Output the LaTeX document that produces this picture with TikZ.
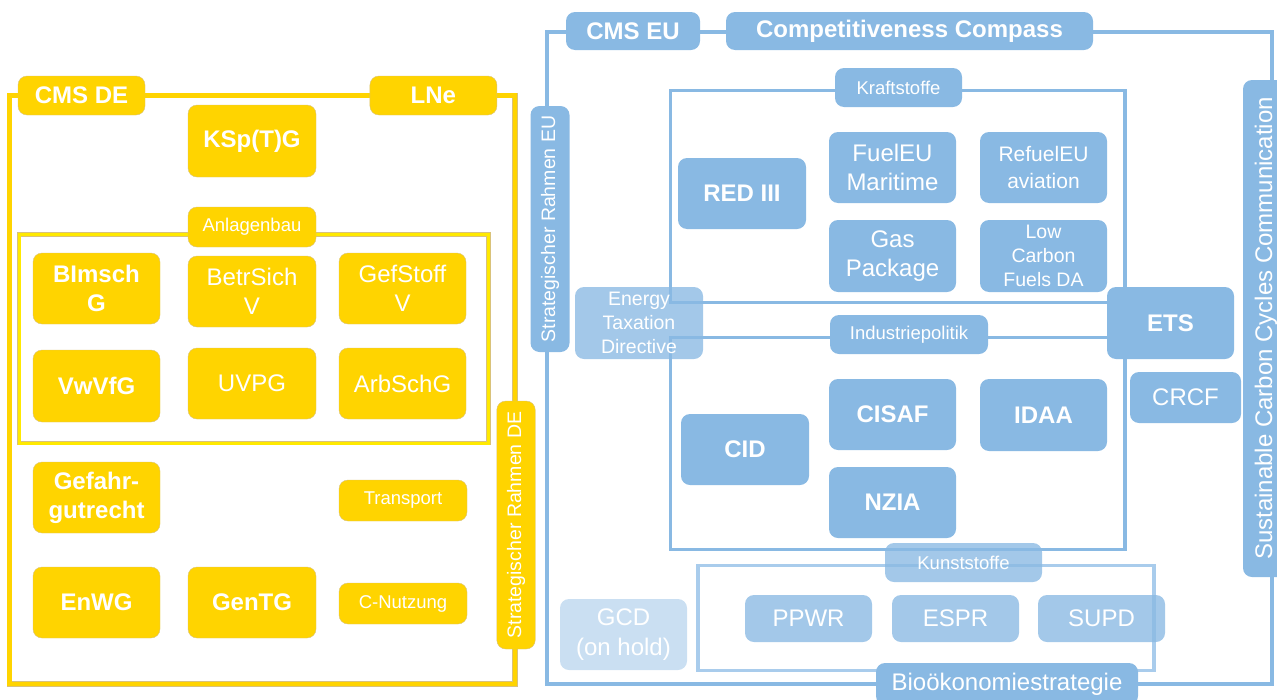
\documentclass[tikz,border=0pt]{standalone}
\usepackage{fontspec}
\setmainfont{Liberation Sans}
\definecolor{ygold}{HTML}{FFD400}
\definecolor{yedge}{HTML}{D9C27A}
\definecolor{ybright}{HTML}{FFE900}
\definecolor{bblue}{HTML}{89B9E3}
\definecolor{blight}{HTML}{A9CCEC}
\begin{document}
\begin{tikzpicture}[x=1pt,y=-1pt,
  box/.style={rounded corners=9pt, text=white, align=center, inner sep=0pt,
    font=\fontsize{24}{28.5}\selectfont},
  ybox/.style={box, fill=ygold, draw=yedge, line width=0.4pt},
  bbox/.style={box, fill=bblue},
  tbox/.style={box, fill=bblue, fill opacity=0.78, text opacity=1},
  hbox/.style={box, fill=bblue, fill opacity=0.45, text opacity=1},
  bf/.style={font=\fontsize{24}{29}\selectfont\bfseries},
  small/.style={font=\fontsize{18.5}{22}\selectfont},
  mid/.style={font=\fontsize{21}{26.5}\selectfont},
  lite/.style={font=\fontsize{19.5}{24}\selectfont},
  sz/.style n args={2}{minimum width=#1pt, minimum height=#2pt},
  yframe/.style={draw=yedge, double=ygold, double distance=4.5pt, line width=0.6pt},
  yinner/.style={draw=yedge, double=ybright, double distance=3pt, line width=0.6pt},
  bframe/.style={draw=bblue, line width=4pt},
  binner/.style={draw=bblue, line width=3.5pt},
  bpale/.style={draw=blight, line width=3.5pt}
]
\useasboundingbox (0,0) rectangle (1277,699);

% ---------- frames ----------
\coordinate (deTL) at (9.5,95.5);   \coordinate (deBR) at (515,684);
\coordinate (anTL) at (19,234.5);   \coordinate (anBR) at (488.5,443);
\coordinate (euTL) at (546.5,32);   \coordinate (euBR) at (1272,683.5);
\coordinate (krTL) at (670.5,90.5); \coordinate (krBR) at (1125,302.5);
\coordinate (ipTL) at (670.5,337.5);\coordinate (ipBR) at (1125,549.5);
\coordinate (kuTL) at (698,565.5);  \coordinate (kuBR) at (1154,670.5);

\draw[yframe] (deTL) rectangle (deBR);
\draw[yinner] (anTL) rectangle (anBR);
\draw[bframe] (euTL) rectangle (euBR);
\draw[binner] (krTL) rectangle (krBR);
\draw[binner] (ipTL) rectangle (ipBR);
\draw[bpale] (kuTL) rectangle (kuBR);

% ---------- German framework ----------
\node[ybox,bf,sz={127}{39}] (cmsde) at (81.5,95.5) {CMS DE};
\node[ybox,bf,sz={127}{39}] (lne) at (433.4,95.5) {LNe};
\node[ybox,bf,sz={128}{72}] (ksptg) at (252,141) {KSp(T)G};
\node[ybox,small,sz={128}{40}] (anlagen) at (252,227) {Anlagenbau};

\node[ybox,bf,sz={127}{71}] (bimsch) at (96.5,288.5) {BImsch\\G};
\node[ybox,sz={128}{71}] (betrsich) at (252,291.5) {BetrSich\\V};
\node[ybox,sz={127}{71}] (gefstoff) at (402.5,288.5) {GefStoff\\V};
\node[ybox,bf,sz={127}{72}] (vwvfg) at (96.5,386) {VwVfG};
\node[ybox,sz={128}{71}] (uvpg) at (252,383.5) {UVPG};
\node[ybox,sz={127}{71}] (arbsch) at (402.5,383.5) {ArbSchG};

\node[ybox,bf,sz={127}{71}] (gefahr) at (96.5,497.5) {Gefahr-\\gutrecht};
\node[ybox,small,sz={128}{41}] (transport) at (403,500.5) {Transport};
\node[ybox,bf,sz={127}{71}] (enwg) at (96.5,602.5) {EnWG};
\node[ybox,bf,sz={128}{71}] (gentg) at (252,602.5) {GenTG};
\node[ybox,small,sz={128}{41}] (cnutz) at (403,603.5) {C-Nutzung};

\node[ybox,lite,sz={248}{38.5},rotate=90] (srde) at (516,525) {Strategischer Rahmen DE};

% ---------- European framework ----------
\node[bbox,bf,sz={134}{38}] (cmseu) at (633,31) {CMS EU};
\node[bbox,bf,sz={367}{38}] (compass) at (909.5,31) {Competitiveness Compass};
\node[bbox,lite,sz={246}{39},rotate=90] (sreu) at (550,229) {Strategischer Rahmen EU};
\node[bbox,sz={497}{46},rotate=90] (scc) at (1266,328.5) {Sustainable Carbon Cycles Communication};

\node[bbox,small,sz={127}{39}] (kraft) at (898.5,87.5) {Kraftstoffe};
\node[bbox,bf,sz={128}{71}] (red) at (742,193.5) {RED III};
\node[bbox,sz={127}{71}] (fueleu) at (892.5,167.5) {FuelEU\\Maritime};
\node[bbox,mid,sz={127}{71}] (refueleu) at (1043.5,167.5) {RefuelEU\\aviation};
\node[bbox,sz={127}{72}] (gas) at (892.5,256) {Gas\\Package};
\node[bbox,lite,sz={127}{72}] (lowc) at (1043.5,256) {Low\\Carbon\\Fuels DA};

\node[tbox,lite,sz={128}{72}] (etd) at (639,323) {Energy\\Taxation\\Directive};
\node[bbox,bf,sz={127}{72}] (ets) at (1170.5,323) {ETS};
\node[bbox,small,sz={158}{39}] (indpol) at (909,334.5) {Industriepolitik};
\node[bbox,sz={111}{51}] (crcf) at (1185.5,397.5) {CRCF};

\node[bbox,bf,sz={127}{71}] (cisaf) at (892.5,414.5) {CISAF};
\node[bbox,bf,sz={127}{72}] (idaa) at (1043.5,415) {IDAA};
\node[bbox,bf,sz={128}{71}] (cid) at (745,449.5) {CID};
\node[bbox,bf,sz={127}{71}] (nzia) at (892.5,502.5) {NZIA};

\node[tbox,small,sz={157}{39}] (kunst) at (963.5,562.5) {Kunststoffe};
\node[tbox,sz={127}{47}] (ppwr) at (808.5,618.5) {PPWR};
\node[tbox,sz={127}{47}] (espr) at (955.5,618.5) {ESPR};
\node[tbox,sz={127}{47}] (supd) at (1101.5,618.5) {SUPD};
\node[hbox,font=\fontsize{24}{30}\selectfont,sz={127}{71}] (gcd) at (623.5,634.5) {GCD\\(on hold)};
\node[bbox,sz={262}{42}] (bio) at (1007,684) {Bioökonomiestrategie};
\end{tikzpicture}
\end{document}
